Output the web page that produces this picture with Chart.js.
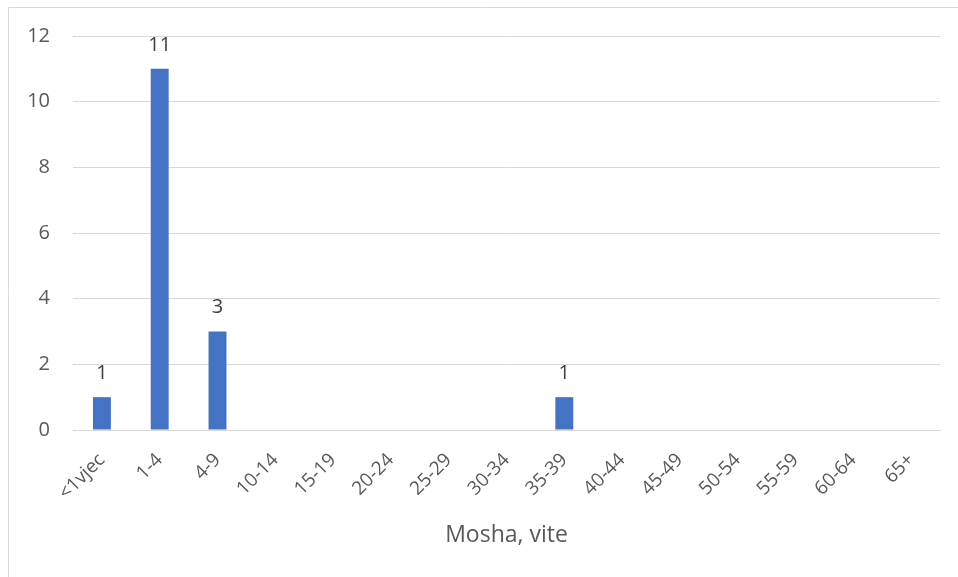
<!DOCTYPE html>
<html>
<head>
<meta charset="utf-8">
<script src="https://cdn.jsdelivr.net/npm/chart.js@4"></script>
<style>
html,body{margin:0;padding:0;background:#fff;}
#wrap{width:958px;height:577px;position:relative;}
</style>
</head>
<body>
<div id="wrap"><canvas id="c" width="958" height="577"></canvas></div>
<script>
const categories = ['<1vjec','1-4','4-9','10-14','15-19','20-24','25-29','30-34','35-39','40-44','45-49','50-54','55-59','60-64','65+'];
const values = [1, 11, 3, 0, 0, 0, 0, 0, 1, 0, 0, 0, 0, 0, 0];
const yTicks = [0, 2, 4, 6, 8, 10, 12];
const xTitle = 'Mosha, vite';

const FONT = "'Open Sans', sans-serif";

const frame = {
  id: 'frame',
  afterDraw(chart) {
    const ctx = chart.ctx;
    ctx.save();
    ctx.strokeStyle = '#d9d9d9';
    ctx.lineWidth = 1;
    ctx.beginPath();
    ctx.moveTo(8.5, 577);
    ctx.lineTo(8.5, 7.5);
    ctx.lineTo(958, 7.5);
    ctx.stroke();
    ctx.restore();
  }
};

const dataLabels = {
  id: 'dataLabels',
  afterDatasetsDraw(chart) {
    const ctx = chart.ctx;
    const meta = chart.getDatasetMeta(0);
    ctx.save();
    ctx.font = "20px " + FONT;
    ctx.fillStyle = '#404040';
    ctx.textAlign = 'center';
    ctx.textBaseline = 'middle';
    meta.data.forEach((bar, i) => {
      const v = chart.data.datasets[0].data[i];
      if (v) ctx.fillText(String(v), bar.x, bar.y - 24);
    });
    ctx.restore();
  }
};

new Chart(document.getElementById('c'), {
  type: 'bar',
  data: {
    labels: categories,
    datasets: [{
      data: values,
      backgroundColor: '#4472C4',
      borderWidth: 0,
      categoryPercentage: 1,
      barPercentage: 0.31
    }]
  },
  options: {
    responsive: false,
    animation: false,
    devicePixelRatio: 1,
    layout: { padding: { left: 8, right: 18, top: 36, bottom: 0 } },
    plugins: { legend: { display: false }, tooltip: { enabled: false } },
    scales: {
      x: {
        grid: { display: false, drawTicks: false },
        border: { display: true, color: '#d9d9d9', width: 1 },
        ticks: {
          color: '#595959',
          font: { family: FONT, size: 19 },
          minRotation: 45, maxRotation: 45,
          padding: 19,
          autoSkip: false
        },
        title: {
          display: true, text: xTitle, color: '#595959',
          font: { family: FONT, size: 23 },
          padding: { top: 0, bottom: 28 }
        },
        afterFit(s) { s.height = 147; }
      },
      y: {
        min: 0, max: 12,
        afterBuildTicks(s) { s.ticks = yTicks.map(v => ({ value: v })); },
        grid: { color: '#d9d9d9', lineWidth: 1, drawTicks: false },
        border: { display: false },
        ticks: {
          color: '#595959',
          font: { family: FONT, size: 20 },
          padding: 23
        },
        afterFit(s) { s.width = 65; }
      }
    }
  },
  plugins: [frame, dataLabels]
});
</script>
</body>
</html>
